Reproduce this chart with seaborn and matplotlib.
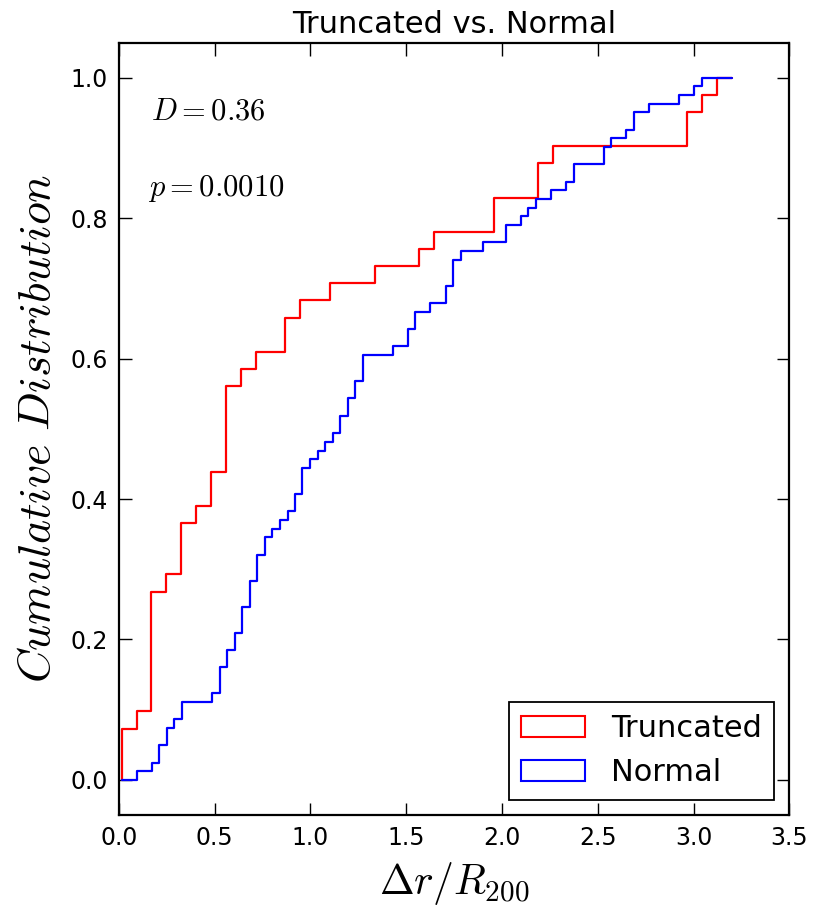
import matplotlib
matplotlib.use("Agg")
import matplotlib.pyplot as plt
from matplotlib.patches import Patch
import seaborn as sns
import pandas as pd

# ---- data (step positions and cumulative counts) ----
red_x = [0.016, 0.016, 0.093, 0.171, 0.249, 0.326, 0.404, 0.482, 0.559, 0.637,
         0.715, 0.870, 0.947, 1.103, 1.336, 1.569, 1.646, 1.957, 2.190, 2.268,
         2.966, 3.044, 3.122, 3.199]
red_count = [0, 3, 4, 11, 12, 15, 16, 18, 23, 24,
             25, 27, 28, 29, 30, 31, 32, 34, 36, 37,
             39, 40, 41, 41]
red_total = 41

blue_x = [0.016, 0.094, 0.173, 0.212, 0.252, 0.291, 0.330, 0.487, 0.527, 0.566,
          0.605, 0.645, 0.684, 0.723, 0.763, 0.802, 0.841, 0.881, 0.920, 0.959,
          0.999, 1.038, 1.077, 1.116, 1.156, 1.195, 1.234, 1.274, 1.431, 1.510,
          1.549, 1.627, 1.706, 1.745, 1.785, 1.903, 2.021, 2.099, 2.138, 2.178,
          2.256, 2.335, 2.374, 2.532, 2.571, 2.650, 2.689, 2.767, 2.925, 3.003,
          3.043, 3.200]
blue_count = [0, 1, 2, 4, 6, 7, 9, 10, 13, 15,
              17, 20, 23, 26, 28, 29, 30, 31, 33, 36,
              37, 38, 39, 40, 42, 44, 46, 49, 50, 52,
              54, 55, 57, 60, 61, 62, 64, 65, 66, 67,
              68, 69, 71, 73, 74, 75, 77, 78, 79, 80,
              81, 81]
blue_total = 81

series_names = ["Truncated", "Normal"]
series_colors = ["#ff0000", "#0000ff"]
title_text = "Truncated vs. Normal"
stat_labels = [r"$D=0.36$", r"$p=0.0010$"]
x_ticks = [0.0, 0.5, 1.0, 1.5, 2.0, 2.5, 3.0, 3.5]
y_ticks = [0.0, 0.2, 0.4, 0.6, 0.8, 1.0]

# ---- style ----
sns.set_style("ticks")
plt.rcParams["font.family"] = ["DejaVu Sans"]
plt.rcParams["mathtext.fontset"] = "cm"
plt.rcParams["text.color"] = "black"
plt.rcParams["axes.labelcolor"] = "black"
plt.rcParams["xtick.color"] = "black"
plt.rcParams["ytick.color"] = "black"

fig = plt.figure(figsize=(8.17, 9.10), dpi=100)
ax = fig.add_axes([0.1453, 0.1044, 0.8208, 0.8487])

red_df = pd.DataFrame({"x": red_x, "y": [c / red_total for c in red_count]})
blue_df = pd.DataFrame({"x": blue_x, "y": [c / blue_total for c in blue_count]})

sns.lineplot(data=red_df, x="x", y="y", ax=ax, color=series_colors[0],
             drawstyle="steps-post", estimator=None, sort=False, lw=1.6)
sns.lineplot(data=blue_df, x="x", y="y", ax=ax, color=series_colors[1],
             drawstyle="steps-post", estimator=None, sort=False, lw=1.6)

ax.set_xlim(0, 3.5)
ax.set_ylim(-0.05, 1.05)
ax.set_xticks(x_ticks)
ax.set_yticks(y_ticks)
ax.set_xticklabels([f"{v:.1f}" for v in x_ticks])
ax.set_yticklabels([f"{v:.1f}" for v in y_ticks])
ax.tick_params(direction="in", length=9, width=1.0, top=True, right=True,
               labelsize=17, pad=8, colors="black")
for s in ax.spines.values():
    s.set_visible(True)
    s.set_linewidth(1.6)
    s.set_color("black")

ax.set_title(title_text, fontsize=22, pad=7, color="black")
ax.set_xlabel(r"$\Delta r/R_{200}$", fontsize=30, labelpad=7)
ax.set_ylabel(r"$Cumulative\ Distribution$", fontsize=33, labelpad=7)

ax.text(0.17, 0.94, stat_labels[0], fontsize=22, va="baseline", ha="left")
ax.text(0.155, 0.831, stat_labels[1], fontsize=22, va="baseline", ha="left")

handles = [Patch(facecolor="none", edgecolor=c, linewidth=1.5) for c in series_colors]
leg = ax.legend(handles, series_names, loc="lower right", fontsize=22,
                frameon=True, fancybox=False, framealpha=1, edgecolor="black",
                handlelength=2.1, handletextpad=0.85, borderpad=0.4,
                labelspacing=0.5, borderaxespad=0.5)
for t in leg.get_texts():
    t.set_color("black")
leg.get_frame().set_linewidth(1.3)

fig.savefig("out.png", dpi=100)
